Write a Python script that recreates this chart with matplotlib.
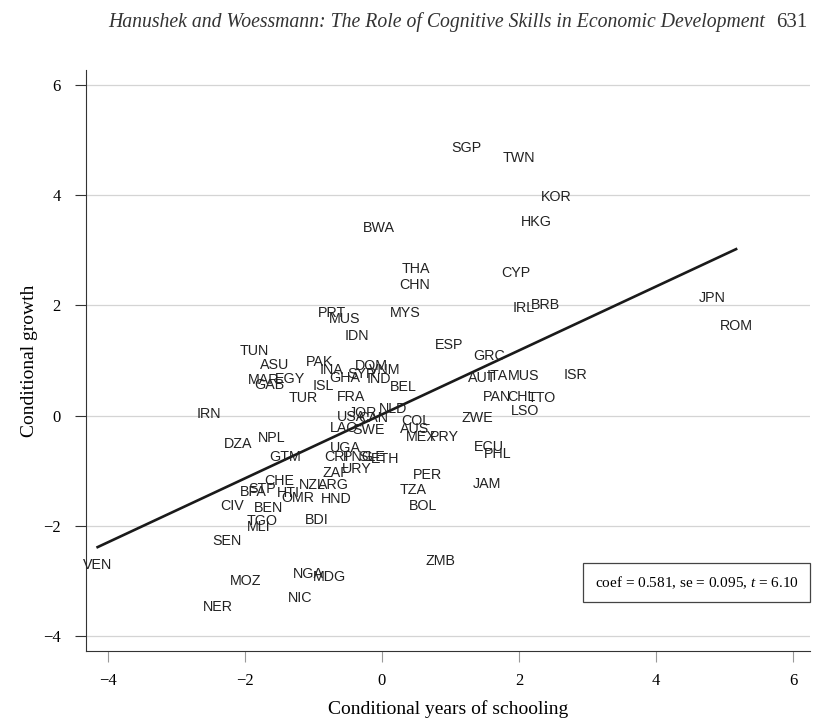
import numpy as np
import matplotlib.pyplot as plt

# country codes and their conditional schooling / growth
codes = ['SGP', 'TWN', 'KOR', 'HKG', 'BWA', 'THA', 'CHN', 'CYP', 'IRL', 'BRB',
         'JPN', 'ROM', 'PRT', 'MUS', 'MYS', 'IDN', 'ESP', 'TUN', 'ASU', 'PAK',
         'MAR', 'EGY', 'GAB', 'TUR', 'ISL', 'INA', 'GHA', 'SYR', 'DOM', 'VNM',
         'IND', 'BEL', 'FRA', 'USA', 'JOR', 'CAN', 'NLD', 'LAO', 'SWE', 'COL',
         'AUS', 'MEX', 'PRY', 'ZWE', 'PAN', 'CHL', 'TTO', 'LSO', 'AUT', 'ITA',
         'MUS', 'ISR', 'GRC', 'ECU', 'PHL', 'JAM', 'PER', 'TZA', 'BOL', 'ZMB',
         'IRN', 'DZA', 'NPL', 'GTM', 'CHE', 'BFA', 'STP', 'HTI', 'OMR', 'HND',
         'NZL', 'ARG', 'ZAF', 'URY', 'UGA', 'CRI', 'PNG', 'SLE', 'ETH', 'BEN',
         'CIV', 'TGO', 'MLI', 'BDI', 'SEN', 'VEN', 'MOZ', 'NGA', 'MDG', 'NIC',
         'NER']
school = [1.23, 2.00, 2.54, 2.25, -0.04, 0.50, 0.48, 1.96, 2.07, 2.39,
          4.82, 5.17, -0.73, -0.55, 0.34, -0.36, 0.98, -1.87, -1.56, -0.91,
          -1.72, -1.34, -1.64, -1.15, -0.86, -0.74, -0.54, -0.29, -0.15, 0.04,
          -0.04, 0.31, -0.45, -0.45, -0.28, -0.13, 0.16, -0.55, -0.20, 0.50,
          0.48, 0.58, 0.91, 1.40, 1.68, 2.04, 2.34, 2.09, 1.47, 1.68,
          2.07, 2.82, 1.56, 1.56, 1.69, 1.53, 0.66, 0.45, 0.60, 0.86,
          -2.53, -2.10, -1.61, -1.42, -1.50, -1.88, -1.75, -1.37, -1.23, -0.67,
          -1.02, -0.70, -0.67, -0.36, -0.53, -0.66, -0.34, -0.15, 0.04, -1.66,
          -2.19, -1.75, -1.80, -0.95, -2.26, -4.15, -1.99, -1.07, -0.77, -1.20,
          -2.39]
growth = [4.86, 4.68, 3.97, 3.51, 3.41, 2.67, 2.37, 2.59, 1.95, 2.01,
          2.14, 1.63, 1.86, 1.75, 1.86, 1.45, 1.28, 1.17, 0.92, 0.97,
          0.65, 0.66, 0.55, 0.31, 0.54, 0.83, 0.68, 0.75, 0.90, 0.83,
          0.66, 0.52, 0.34, -0.02, 0.05, -0.05, 0.12, -0.23, -0.26, -0.10,
          -0.25, -0.39, -0.39, -0.05, 0.34, 0.34, 0.32, 0.08, 0.68, 0.72,
          0.72, 0.74, 1.08, -0.57, -0.70, -1.25, -1.08, -1.35, -1.65, -2.65,
          0.03, -0.52, -0.41, -0.75, -1.19, -1.39, -1.34, -1.41, -1.50, -1.52,
          -1.26, -1.26, -1.05, -0.97, -0.59, -0.75, -0.75, -0.75, -0.79, -1.68,
          -1.65, -1.92, -2.03, -1.90, -2.28, -2.72, -3.01, -2.88, -2.94, -3.32,
          -3.48]

coef = 0.581
intercept = 0.02
x_ticks = [-4, -2, 0, 2, 4, 6]
y_ticks = [-4, -2, 0, 2, 4, 6]

serif = ['Liberation Serif', 'DejaVu Serif']
plt.rcParams['mathtext.fontset'] = 'custom'
plt.rcParams['mathtext.it'] = 'Liberation Serif:italic'
plt.rcParams['mathtext.rm'] = 'Liberation Serif'

fig = plt.figure(figsize=(8.21, 7.21), dpi=100)
ax = fig.add_axes([0.1047, 0.097, 0.882, 0.806])

x = np.array(school)
y = np.array(growth)

for c, xi, yi in zip(codes, x, y):
    ax.text(xi, yi, c, ha='center', va='center', fontsize=10.3,
            family='Liberation Sans', color='#222222')

xs = np.array([x.min(), x.max()])
ax.plot(xs, intercept + coef * xs, color='#1a1a1a', lw=1.9)

ax.set_xlim(-4.32, 6.25)
ax.set_ylim(-4.28, 6.28)
ax.set_xticks(x_ticks)
ax.set_yticks(y_ticks)
ax.set_xticklabels([str(t).replace('-', '\u2212') for t in x_ticks],
                   family=serif, fontsize=12)
ax.set_yticklabels([str(t).replace('-', '\u2212') for t in y_ticks],
                   family=serif, fontsize=12)
ax.grid(axis='y', color='#d4d4d4', lw=0.9)
ax.set_axisbelow(True)
for s in ['top', 'right']:
    ax.spines[s].set_visible(False)
ax.spines['left'].set_color('#333333')
ax.spines['bottom'].set_color('#333333')
ax.tick_params(axis='y', length=8, color='#333333', pad=10)
ax.tick_params(axis='x', length=8, color='#999999', pad=8)

ax.set_xlabel('Conditional years of schooling', family=serif, fontsize=14, labelpad=8)
ax.set_ylabel('Conditional growth', family=serif, fontsize=14, labelpad=4)

ax.text(0.984, 0.118, r'coef = 0.581, se = 0.095, $t$ = 6.10',
        transform=ax.transAxes, ha='right', va='center', fontsize=11,
        family=serif,
        bbox=dict(boxstyle='square,pad=0.75', fc='white', ec='#444444', lw=0.9))

fig.text(0.932, 0.969, 'Hanushek and Woessmann: The Role of Cognitive Skills in Economic Development',
         ha='right', va='center', fontsize=14.2, family=serif, style='italic', color='#333333')
fig.text(0.984, 0.969, '631', ha='right', va='center', fontsize=15, family=serif, color='#333333')

fig.savefig('out.png', dpi=100)
